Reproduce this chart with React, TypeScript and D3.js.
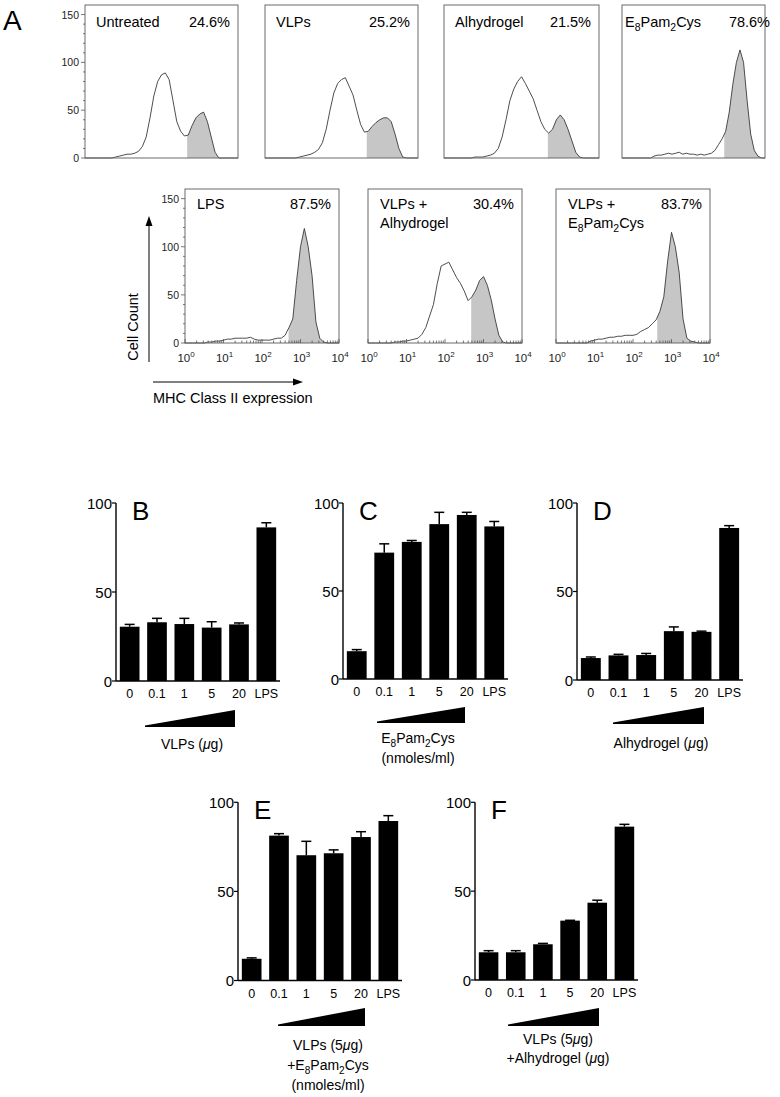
import React from "react";
import * as d3 from "d3";

// flow histograms: channel positions (log10 of MHC II intensity) and cell counts
const logBins = [
  0.0, 0.1, 0.2, 0.3, 0.4, 0.5, 0.6, 0.7, 0.8, 0.9, 1.0, 1.1, 1.2, 1.3, 1.4,
  1.5, 1.6, 1.7, 1.8, 1.9, 2.0, 2.1, 2.2, 2.3, 2.4, 2.5, 2.6, 2.7, 2.8, 2.9,
  3.0, 3.1, 3.2, 3.3, 3.4, 3.5, 3.6, 3.7, 3.8, 3.9, 4.0,
];
const untreated = [0,0,0,0,0,0,0,0,1,2,3,4,4,5,7,12,22,42,65,80,87,89,82,60,38,28,23,24,34,42,46,48,38,22,6,0,0,0,0,0,0];
const vlps = [0,0,0,0,0,0,0,0,0,1,2,3,4,6,9,16,30,50,68,78,82,84,75,66,50,35,27,28,33,37,40,42,42,38,25,10,1,0,0,0,0];
const alhydrogel = [0,0,0,0,0,0,0,0,1,1,1,2,3,5,10,22,40,60,72,80,85,78,70,62,50,38,30,26,30,40,45,40,30,18,6,1,0,0,0,0,0];
const e8pam = [0,0,0,0,0,0,0,0,0,2,3,3,4,5,4,5,6,4,5,4,4,3,4,3,4,5,8,14,20,28,48,77,100,113,100,60,25,8,2,0,0];
const lps = [0,0,0,0,0,0,1,1,2,2,3,4,4,5,5,5,5,6,4,3,3,3,3,4,5,5,8,16,25,65,100,119,100,70,22,5,1,0,0,0,0];
const vlpsAlhy = [0,0,0,0,0,0,0,1,1,2,2,3,4,5,9,16,28,40,62,80,82,84,76,68,62,54,44,48,55,65,69,60,45,25,8,1,0,0,0,0,0];
const vlpsE8 = [0,0,0,0,0,0,0,0,0,2,3,4,4,5,6,6,7,7,8,8,8,9,12,14,16,20,24,33,48,85,115,100,73,25,5,2,1,0,0,0,0];

const histTitles = ["Untreated", "VLPs", "Alhydrogel", "E_8Pam_2Cys", "LPS", "VLPs +|Alhydrogel", "VLPs +|E_8Pam_2Cys"];
const histPct = ["24.6%", "25.2%", "21.5%", "78.6%", "87.5%", "30.4%", "83.7%"];
const histGates = [2.67, 2.66, 2.68, 2.86, 2.69, 2.68, 2.63];
const countTicks = [0, 50, 100, 150];
const decades = [0, 1, 2, 3, 4];

// bar charts: % MHC II positive
const categories = ["0", "0.1", "1", "5", "20", "LPS"];
const valueTicks = [0, 50, 100];
const bMean = [30.5, 33, 32, 30, 31.8, 86.3];
const bSd = [1.3, 2.2, 3.2, 3.3, 0.8, 2.6];
const cMean = [15.8, 71.8, 77.9, 88, 93.2, 86.7];
const cSd = [0.9, 5.0, 0.8, 6.7, 1.5, 2.8];
const dMean = [12.4, 13.9, 14.1, 27.6, 27.2, 85.9];
const dSd = [0.6, 0.6, 0.9, 2.4, 0.4, 1.3];
const eMean = [12.2, 81.3, 70.3, 71.4, 80.5, 89.5];
const eSd = [0.5, 1.1, 7.8, 1.9, 3.0, 3.0];
const fMean = [15.6, 15.6, 20.1, 33.4, 43.5, 86.3];
const fSd = [0.9, 0.9, 0.5, 0.2, 1.4, 1.3];

const FONT = "'Liberation Sans', Arial, Helvetica, sans-serif";

// "_8" -> subscript 8, "μ" -> italic
function Rich({ s, size }: { s: string; size: number }) {
  const parts = s.split(/_(\d)/);
  const out: any[] = [];
  parts.forEach((p, i) => {
    if (i % 2 === 1) {
      out.push(
        <tspan key={"s" + i} dy={size * 0.3} fontSize={size * 0.72}>{p}</tspan>
      );
      return;
    }
    const pieces = p.split(/(μ)/);
    pieces.forEach((q, j) => {
      if (!q) return;
      const dy = i > 0 && j === 0 ? -size * 0.3 : 0;
      out.push(
        <tspan key={i + "-" + j} dy={dy || undefined} fontStyle={q === "μ" ? "italic" : undefined}>
          {q}
        </tspan>
      );
    });
  });
  return <>{out}</>;
}

interface HistProps {
  id: string;
  x: number;
  y: number;
  w: number;
  h: number;
  counts: number[];
  gate: number;
  title: string;
  pct: string;
  yAxis?: boolean;
  xAxis?: boolean;
  titleDx?: number;
  pctDx?: number;
  lineGap: number;
  firstLine: number;
}

function Histogram({ id, x, y, w, h, counts, gate, title, pct, yAxis, xAxis, titleDx = 11, pctDx = -8, lineGap, firstLine }: HistProps) {
  const xs = d3.scaleLog().domain([1, 1e4]).range([x, x + w]);
  const ys = d3.scaleLinear().domain([0, 160]).range([y + h, y]);
  const px = (_: number, i: number) => xs(Math.pow(10, logBins[i]));
  const area = d3.area<number>().x(px).y0(ys(0)).y1((d) => ys(d));
  const line = d3.line<number>().x(px).y((d) => ys(d));
  const gx = xs(Math.pow(10, gate));
  const minorY = d3.range(0, 151, 10);
  const minorX: number[] = [];
  decades.slice(0, 4).forEach((k) => {
    for (let m = 2; m <= 9; m++) minorX.push(m * Math.pow(10, k));
  });
  const lines = title.split("|");
  return (
    <g>
      <defs>
        <clipPath id={"clip-" + id}>
          <rect x={gx} y={y} width={x + w - gx} height={h} />
        </clipPath>
      </defs>
      <path d={area(counts) || ""} fill="#c6c6c6" clipPath={`url(#clip-${id})`} />
      <path d={line(counts) || ""} fill="none" stroke="#3a3a3a" strokeWidth={0.9} />
      <rect x={x} y={y} width={w} height={h} fill="none" stroke="#6a6a6a" strokeWidth={1} />
      {lines.map((l, i) => (
        <text key={i} x={x + titleDx} y={y + firstLine + i * lineGap} fontSize={14.5} fontFamily={FONT}>
          <Rich s={l} size={14.5} />
        </text>
      ))}
      <text x={x + w + pctDx} y={y + firstLine} fontSize={14.5} fontFamily={FONT} textAnchor="end">
        {pct}
      </text>
      {yAxis && (
        <g>
          {minorY.map((t) => (
            <line key={t} x1={x - (t % 50 === 0 ? 4 : 2)} x2={x} y1={ys(t)} y2={ys(t)} stroke="#555" strokeWidth={0.8} />
          ))}
          {countTicks.map((t) => (
            <text key={t} x={x - 6} y={ys(t) + 4} fontSize={10.5} fontFamily={FONT} textAnchor="end" fill="#222">
              {t}
            </text>
          ))}
        </g>
      )}
      {xAxis && (
        <g>
          {minorX.map((t) => (
            <line key={t} x1={xs(t)} x2={xs(t)} y1={y + h} y2={y + h - 2.5} stroke="#555" strokeWidth={0.8} />
          ))}
          {decades.map((k) => (
            <g key={k}>
              <line x1={xs(Math.pow(10, k))} x2={xs(Math.pow(10, k))} y1={y + h} y2={y + h - 4} stroke="#555" strokeWidth={0.8} />
              <text x={xs(Math.pow(10, k)) + 1} y={y + h + 19} fontSize={11.5} fontFamily={FONT} textAnchor="middle" fill="#222">
                <tspan>10</tspan>
                <tspan dy={-5.5} fontSize={8}>{k}</tspan>
              </text>
            </g>
          ))}
        </g>
      )}
    </g>
  );
}

interface BarProps {
  x0: number;
  xEnd: number;
  y0: number;
  y100: number;
  letter: string;
  mean: number[];
  sd: number[];
  wedge: [number, number, number, number];
  labels: string[];
  labelX: number;
  labelY: number[];
}

function BarPanel({ x0, xEnd, y0, y100, letter, mean, sd, wedge, labels, labelX, labelY }: BarProps) {
  const xb = d3.scaleBand<string>().domain(categories).range([x0, xEnd]).paddingInner(0.28).paddingOuter(0.14);
  const yv = d3.scaleLinear().domain([0, 100]).range([y0, y100]);
  const bw = xb.bandwidth();
  const [wx1, wx2, wyTop, wyBot] = wedge;
  return (
    <g fontFamily={FONT}>
      {categories.map((c, i) => {
        const bx = xb(c) || 0;
        const cx = bx + bw / 2;
        return (
          <g key={c}>
            <line x1={cx} x2={cx} y1={yv(mean[i])} y2={yv(mean[i] + sd[i])} stroke="#000" strokeWidth={1.5} />
            <line x1={cx - 5} x2={cx + 5} y1={yv(mean[i] + sd[i])} y2={yv(mean[i] + sd[i])} stroke="#000" strokeWidth={1.5} />
            <rect x={bx} y={yv(mean[i])} width={bw} height={yv(0) - yv(mean[i])} fill="#000" />
            <text x={cx} y={y0 + 17} fontSize={12.5} textAnchor="middle">
              {c}
            </text>
          </g>
        );
      })}
      <line x1={x0} x2={x0} y1={yv(0)} y2={yv(100)} stroke="#000" strokeWidth={1.4} />
      <line x1={x0} x2={xEnd} y1={yv(0)} y2={yv(0)} stroke="#000" strokeWidth={1.4} />
      {valueTicks.map((t) => (
        <g key={t}>
          <line x1={x0 - 4} x2={x0} y1={yv(t)} y2={yv(t)} stroke="#000" strokeWidth={1.2} />
          <text x={x0 - 4} y={yv(t) + 5.5} fontSize={15} textAnchor="end">
            {t}
          </text>
        </g>
      ))}
      <text x={x0 + 16} y={y100 + 17} fontSize={26}>
        {letter}
      </text>
      <polygon
        points={`${x0 + wx1},${y0 + wyBot} ${x0 + wx2},${y0 + wyBot} ${x0 + wx2},${y0 + wyTop} ${x0 + wx1},${y0 + wyBot - 1.5}`}
        fill="#000"
      />
      {labels.map((l, i) => (
        <text key={i} x={labelX} y={labelY[i]} fontSize={14} textAnchor="middle">
          <Rich s={l} size={14} />
        </text>
      ))}
    </g>
  );
}

export default function App() {
  const topX = [85, 265, 444, 622];
  const topW = [153, 153, 155, 143];
  const botX = [185, 368, 556];
  const topData = [untreated, vlps, alhydrogel, e8pam];
  const botData = [lps, vlpsAlhy, vlpsE8];
  return (
    <svg
      width={780}
      height={1097}
      style={{ position: "absolute", left: 0, top: 0, background: "#fff" }}
      fontFamily={FONT}
    >
      <text x={3} y={30} fontSize={28}>A</text>
      {topData.map((c, i) => (
        <Histogram
          key={"t" + i}
          id={"t" + i}
          x={topX[i]}
          y={5}
          w={topW[i]}
          h={153}
          counts={c}
          gate={histGates[i]}
          title={histTitles[i]}
          pct={histPct[i]}
          yAxis={i === 0}
          titleDx={i === 3 ? 3 : 11}
          pctDx={i === 3 ? 5 : -8}
          firstLine={22}
          lineGap={19}
        />
      ))}
      {botData.map((c, i) => (
        <Histogram
          key={"b" + i}
          id={"b" + i}
          x={botX[i]}
          y={189}
          w={154}
          h={154}
          counts={c}
          gate={histGates[4 + i]}
          title={histTitles[4 + i]}
          pct={histPct[4 + i]}
          yAxis={i === 0}
          xAxis
          titleDx={12}
          pctDx={-8}
          firstLine={20}
          lineGap={19}
        />
      ))}
      {/* axis arrows */}
      <line x1={149} x2={149} y1={362} y2={224} stroke="#000" strokeWidth={1} />
      <polygon points="149,216 145.5,226 152.5,226" fill="#000" />
      <line x1={153} x2={294} y1={382} y2={382} stroke="#000" strokeWidth={1} />
      <polygon points="303,382 293,378.5 293,385.5" fill="#000" />
      <text transform="translate(138,327) rotate(-90)" fontSize={14.5} textAnchor="middle">
        Cell Count
      </text>
      <text x={153} y={403} fontSize={14.5}>
        MHC Class II expression
      </text>

      <BarPanel x0={116} xEnd={280} y0={681} y100={503} letter="B" mean={bMean} sd={bSd}
        wedge={[29, 119, 29, 46]} labels={["VLPs (μg)"]} labelX={192} labelY={[749]} />
      <BarPanel x0={343} xEnd={508} y0={679} y100={503} letter="C" mean={cMean} sd={cSd}
        wedge={[34, 122, 28, 44]} labels={["E_8Pam_2Cys", "(nmoles/ml)"]} labelX={418} labelY={[743, 763]} />
      <BarPanel x0={577} xEnd={743} y0={680} y100={503} letter="D" mean={dMean} sd={dSd}
        wedge={[36, 127, 27, 44]} labels={["Alhydrogel (μg)"]} labelX={661} labelY={[748]} />
      <BarPanel x0={238} xEnd={402} y0={980.5} y100={802.3} letter="E" mean={eMean} sd={eSd}
        wedge={[40, 127, 27.5, 45.5]} labels={["VLPs (5μg)", "+E_8Pam_2Cys", "(nmoles/ml)"]} labelX={328} labelY={[1050, 1070, 1090]} />
      <BarPanel x0={475} xEnd={638} y0={980} y100={802.3} letter="F" mean={fMean} sd={fSd}
        wedge={[33, 124, 28, 46]} labels={["VLPs (5μg)", "+Alhydrogel (μg)"]} labelX={558} labelY={[1044, 1063]} />
    </svg>
  );
}
